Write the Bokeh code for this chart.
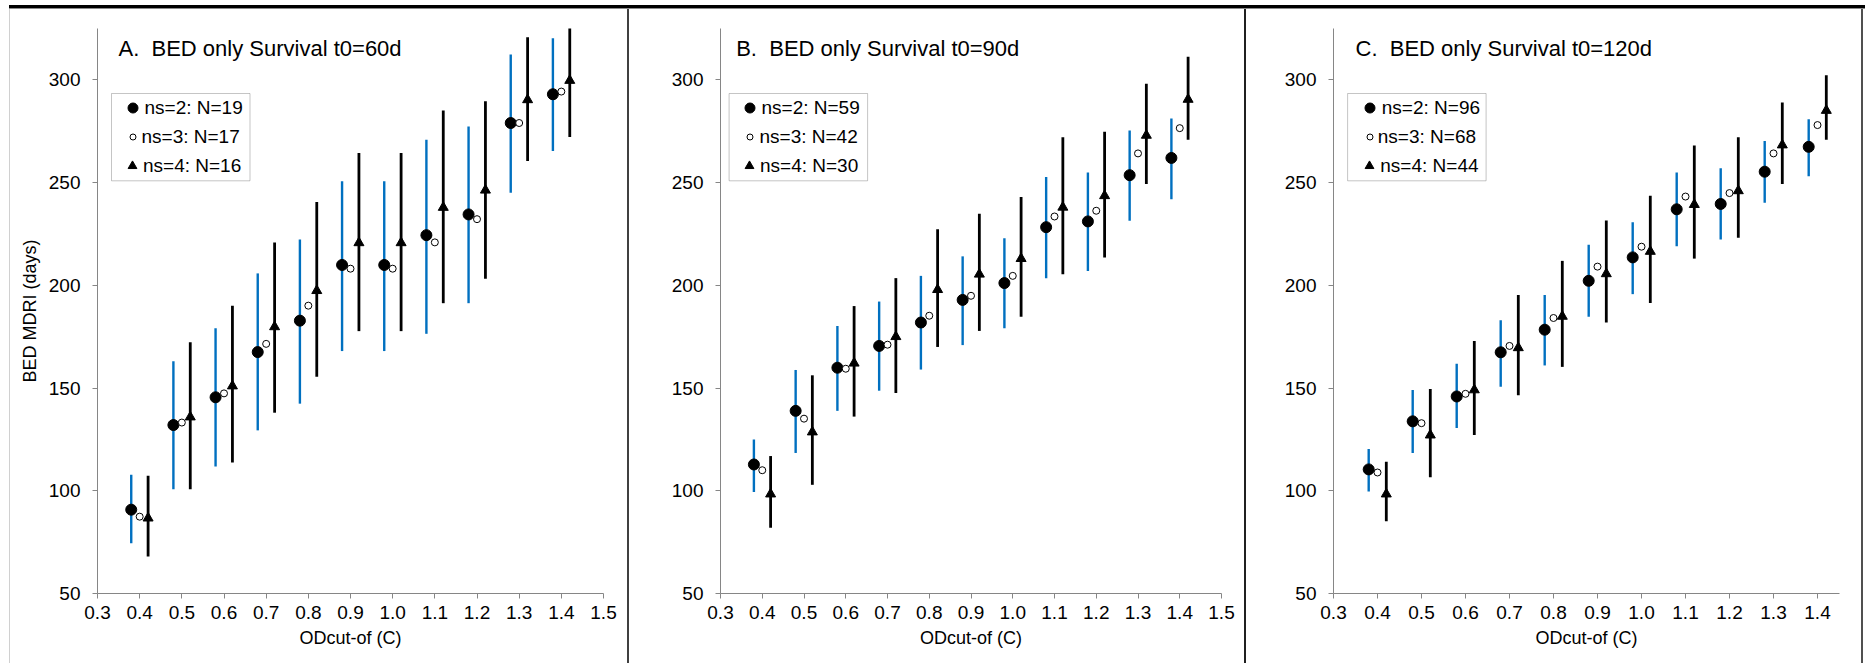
from bokeh.plotting import figure
from bokeh.layouts import row, column
from bokeh.models import (ColumnDataSource, FixedTicker, PrintfTickFormatter, Legend,
                          LegendItem, BoxAnnotation, Label, Div, Range1d)
from bokeh.embed import file_html
from bokeh.resources import INLINE

# ---------------- data ----------------
od_cut = [0.4, 0.5, 0.6, 0.7, 0.8, 0.9, 1.0, 1.1, 1.2, 1.3, 1.4]
dodge = 0.02
y_ticks = [50, 100, 150, 200, 250, 300]
x_ticks_ab = [0.3, 0.4, 0.5, 0.6, 0.7, 0.8, 0.9, 1.0, 1.1, 1.2, 1.3, 1.4, 1.5]
x_ticks_c = [0.3, 0.4, 0.5, 0.6, 0.7, 0.8, 0.9, 1.0, 1.1, 1.2, 1.3, 1.4]

titles = ["A.\u00a0 BED only Survival t0=60d", "B.\u00a0 BED only Survival t0=90d",
          "C.\u00a0 BED only Survival t0=120d"]
legend_a = ["ns=2: N=19", "ns=3: N=17", "ns=4: N=16"]
legend_b = ["ns=2: N=59", "ns=3: N=42", "ns=4: N=30"]
legend_c = ["ns=2: N=96", "ns=3: N=68", "ns=4: N=44"]

# Panel A (t0=60d)
a_ns2 = [90.8, 132.0, 145.5, 167.5, 182.8, 209.9, 209.9, 224.4, 234.5, 279.0, 293.0]
a_ns2_lo = [74.4, 100.8, 111.8, 129.4, 142.4, 168.0, 168.0, 176.4, 191.3, 245.1, 265.4]
a_ns2_hi = [107.8, 163.1, 179.1, 205.8, 222.3, 250.6, 250.6, 270.9, 277.3, 312.3, 320.2]
a_ns3 = [87.4, 133.2, 147.4, 171.5, 190.1, 208.1, 208.1, 220.9, 232.2, 279.0, 294.3]
a_ns4 = [86.7, 135.9, 151.0, 179.8, 197.4, 220.7, 220.7, 237.9, 246.3, 290.3, 299.7]
a_ns4_lo = [68.0, 100.8, 113.8, 138.0, 155.5, 177.7, 177.7, 191.3, 203.2, 260.5, 272.2]
a_ns4_hi = [107.3, 172.3, 190.0, 220.9, 240.6, 264.4, 264.4, 285.1, 289.6, 320.7, 325.2]

# Panel B (t0=90d)
b_ns2 = [112.8, 138.9, 159.9, 170.5, 181.9, 192.9, 201.1, 228.3, 231.1, 253.6, 262.0]
b_ns2_lo = [99.4, 118.4, 138.9, 148.7, 159.0, 170.9, 179.1, 203.5, 207.0, 231.4, 241.9]
b_ns2_hi = [124.9, 158.8, 180.2, 192.1, 204.6, 214.1, 222.9, 252.7, 254.9, 275.4, 281.2]
b_ns3 = [110.0, 135.1, 159.4, 171.1, 185.2, 194.9, 204.6, 233.5, 236.3, 264.2, 276.5]
b_ns4 = [98.4, 128.6, 162.1, 175.0, 197.9, 205.4, 213.0, 238.0, 243.6, 273.0, 290.5]
b_ns4_lo = [82.0, 102.9, 136.1, 147.6, 170.0, 177.8, 184.7, 205.4, 213.6, 249.3, 270.8]
b_ns4_hi = [116.9, 156.2, 189.9, 203.5, 227.3, 234.8, 243.0, 272.1, 274.7, 298.1, 311.2]

# Panel C (t0=120d)
c_ns2 = [110.4, 133.8, 145.9, 167.4, 178.4, 202.2, 213.6, 237.0, 239.6, 255.3, 267.4]
c_ns2_lo = [99.7, 118.4, 130.5, 150.6, 161.0, 184.7, 195.7, 219.0, 222.3, 240.2, 253.1]
c_ns2_hi = [120.3, 149.1, 161.8, 183.0, 195.3, 219.7, 230.7, 254.9, 257.0, 270.2, 280.8]
c_ns3 = [108.9, 132.9, 147.2, 170.5, 184.1, 209.1, 218.8, 243.2, 244.9, 264.2, 278.0]
c_ns4 = [98.4, 127.1, 149.1, 169.6, 184.9, 205.6, 216.5, 239.3, 246.0, 268.3, 285.1]
c_ns4_lo = [85.2, 106.6, 127.1, 146.5, 160.3, 181.9, 191.4, 213.0, 223.1, 249.3, 270.9]
c_ns4_hi = [114.1, 149.5, 172.9, 195.3, 211.9, 231.6, 243.6, 268.0, 272.1, 289.0, 302.2]

# ---------------- styling ----------------
FONT = "Liberation Sans"
BLUE = "#0070C0"
AXIS_GRAY = "#868686"
Y0, Y1 = 50, 325
FIG_H = 654
TOP_B = 19
BOT_B = 70
FRAME_H = FIG_H - TOP_B - BOT_B


def make_panel(title, labels, ns2, ns2_lo, ns2_hi, ns3, ns4, ns4_lo, ns4_hi,
               x_end, x_ticks, width, left_b, right_b, ylabel, title_dx,
               box_dx, mark_dx, text_dx):
    frame_w = width - left_b - right_b
    p = figure(width=width, height=FIG_H, x_range=Range1d(0.3, x_end),
               y_range=Range1d(Y0, Y1), output_backend="svg", toolbar_location=None,
               tools="", min_border_left=left_b, min_border_right=right_b,
               min_border_top=TOP_B, min_border_bottom=BOT_B)
    p.xgrid.visible = False
    p.ygrid.visible = False
    p.outline_line_color = None
    p.background_fill_color = "white"
    p.border_fill_color = "white"

    def px2x(dx):
        return 0.3 + dx * (x_end - 0.3) / frame_w

    def px2y(dy_from_top):
        return Y1 - dy_from_top * (Y1 - Y0) / FRAME_H

    x2 = [c - dodge for c in od_cut]
    x3 = list(od_cut)
    x4 = [c + dodge for c in od_cut]
    src2 = ColumnDataSource(dict(x=x2, y=ns2, lo=ns2_lo, hi=ns2_hi))
    src3 = ColumnDataSource(dict(x=x3, y=ns3))
    src4 = ColumnDataSource(dict(x=x4, y=ns4, lo=ns4_lo, hi=ns4_hi))

    p.segment(x0="x", y0="lo", x1="x", y1="hi", source=src2, line_color=BLUE,
              line_width=2.4)
    r2 = p.scatter("x", "y", source=src2, marker="circle", size=11,
                   fill_color="black", line_color="black")
    r3 = p.scatter("x", "y", source=src3, marker="circle", size=7,
                   fill_color="white", line_color="black", line_width=1)
    p.segment(x0="x", y0="lo", x1="x", y1="hi", source=src4, line_color="black",
              line_width=2.8)
    r4 = p.scatter("x", "y", source=src4, marker="triangle", size=10,
                   fill_color="black", line_color="black")

    # axes
    for ax in (p.xaxis[0], p.yaxis[0]):
        ax.axis_line_color = AXIS_GRAY
        ax.axis_line_width = 1
        ax.major_tick_line_color = AXIS_GRAY
        ax.minor_tick_line_color = None
        ax.major_tick_in = 0
        ax.major_tick_out = 5
        ax.major_label_text_font = FONT
        ax.major_label_text_font_size = "19px"
        ax.major_label_text_color = "black"
        ax.axis_label_text_font = FONT
        ax.axis_label_text_font_size = "18px"
        ax.axis_label_text_font_style = "normal"
        ax.axis_label_text_color = "black"
    p.xaxis.ticker = FixedTicker(ticks=x_ticks)
    p.xaxis.formatter = PrintfTickFormatter(format="%.1f")
    p.xaxis.major_label_standoff = 7
    p.xaxis.axis_label = "ODcut-of (C)"
    p.xaxis.axis_label_standoff = 6
    p.yaxis.ticker = FixedTicker(ticks=y_ticks)
    p.yaxis.major_label_standoff = 12
    if ylabel:
        p.yaxis.axis_label = ylabel
        p.yaxis.axis_label_standoff = 6

    # title
    p.add_layout(Label(x=px2x(title_dx), y=px2y(20.3), text=title,
                       text_font=FONT, text_font_size="22px", text_color="black",
                       text_baseline="alphabetic", text_align="left"))

    # legend frame
    p.add_layout(BoxAnnotation(left=px2x(box_dx), right=px2x(box_dx + 138.5),
                               top=px2y(65.0), bottom=px2y(152.3),
                               fill_alpha=0, line_color="#404040", line_width=1))

    # legend items (one per row so each keeps its own marker size)
    rows_from_bottom = [FRAME_H - 79.7, FRAME_H - 108.7, FRAME_H - 137.7]
    specs = [(r2, 25), (r3, 15), (r4, 22)]
    for (rend, gw), lab, rc in zip(specs, labels, rows_from_bottom):
        lg = Legend(items=[LegendItem(label=lab, renderers=[rend])],
                    location=(mark_dx - gw / 2.0, rc - 12.5),
                    glyph_width=gw, glyph_height=25, label_height=25,
                    label_width=10, label_standoff=int(round(text_dx - mark_dx - gw / 2.0)),
                    padding=0, margin=0, spacing=0, border_line_color=None,
                    background_fill_alpha=0, label_text_font=FONT,
                    label_text_font_size="19px", label_text_color="black")
        p.add_layout(lg)
    return p


pa = make_panel(titles[0], legend_a, a_ns2, a_ns2_lo, a_ns2_hi, a_ns3, a_ns4, a_ns4_lo,
                a_ns4_hi, 1.5, x_ticks_ab, 617, 87, 24, "BED MDRI (days)", 21,
                14.0, 35.0, 44.7)
pb = make_panel(titles[1], legend_b, b_ns2, b_ns2_lo, b_ns2_hi, b_ns3, b_ns4, b_ns4_lo,
                b_ns4_hi, 1.5, x_ticks_ab, 615, 91, 23, None, 15.7,
                8.6, 29.0, 39.7)
pc = make_panel(titles[2], legend_c, c_ns2, c_ns2_lo, c_ns2_hi, c_ns3, c_ns4, c_ns4_lo,
                c_ns4_hi, 1.45, x_ticks_c, 615, 87, 22, None, 22.0,
                14.1, 36.3, 45.0)


def bar(w, h, color):
    return Div(text="", width=w, height=h, margin=0,
               styles={"background-color": color})


top_space = bar(1865, 5, "white")
top_black = row(bar(9, 3, "white"), bar(1856, 3, "black"))
top_gray = row(bar(9, 1, "white"), bar(1856, 1, "#8a8a8a"))
panels = row(bar(9, FIG_H, "white"), bar(1, FIG_H, "#d0d0d0"), pa,
             bar(2, FIG_H, "#404040"), pb, bar(2, FIG_H, "#202020"), pc,
             bar(2, FIG_H, "#505050"))
layout = column(top_space, top_black, top_gray, panels)

open("out.html", "w").write(file_html(layout, INLINE))
